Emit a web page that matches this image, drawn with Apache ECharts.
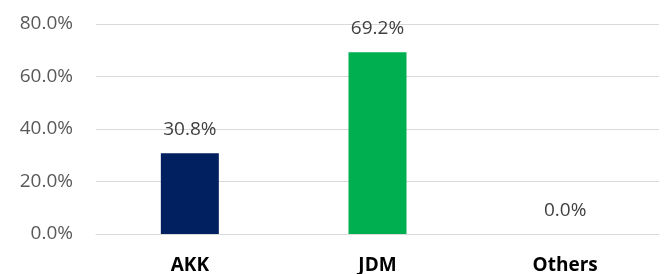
<!DOCTYPE html>
<html>
<head>
<meta charset="utf-8">
<script src="https://cdn.jsdelivr.net/npm/echarts@6/dist/echarts.min.js"></script>
<style>
  html, body { margin: 0; padding: 0; background: #fff; }
  #chart { width: 667px; height: 274px; }
</style>
</head>
<body>
<div id="chart"></div>
<script>
// 数据
var categories = ["AKK", "JDM", "Others"];
var shares = [30.8, 69.2, 0.0];
var barColors = ["#002060", "#00b050", "#a5a5a5"];
var yTicks = [0, 20, 40, 60, 80];

(function () {
  var mychart = echarts.init(document.getElementById("chart"));
  var option = {
    animation: false,
    textStyle: { fontFamily: "Open Sans" },
    grid: {
      top: 24,
      left: 96,
      right: 8,
      bottom: 40,
      containLabel: false,
      outerBoundsMode: "none",
    },
    xAxis: {
      type: "category",
      data: categories,
      axisTick: { show: false },
      axisLine: { show: true, lineStyle: { color: "#d9d9d9", width: 1 } },
      axisLabel: {
        color: "#000",
        fontWeight: "bold",
        fontSize: 19,
        margin: 22,
      },
    },
    yAxis: {
      type: "value",
      min: yTicks[0],
      max: yTicks[yTicks.length - 1],
      interval: 20,
      axisLine: { show: false },
      axisTick: { show: false },
      axisLabel: {
        color: "#595959",
        fontSize: 19,
        margin: 23,
        formatter: function (v) {
          return v.toFixed(1) + "%";
        },
      },
      splitLine: { lineStyle: { color: "#d9d9d9", width: 1 } },
    },
    series: [
      {
        type: "bar",
        barWidth: 58,
        data: shares.map(function (v, i) {
          return { value: v, itemStyle: { color: barColors[i] } };
        }),
        label: {
          show: true,
          position: "top",
          distance: 14,
          color: "#404040",
          fontSize: 19,
          formatter: function (p) {
            return p.value.toFixed(1) + "%";
          },
        },
      },
    ],
  };
  mychart.setOption(option);
})();
</script>
</body>
</html>
